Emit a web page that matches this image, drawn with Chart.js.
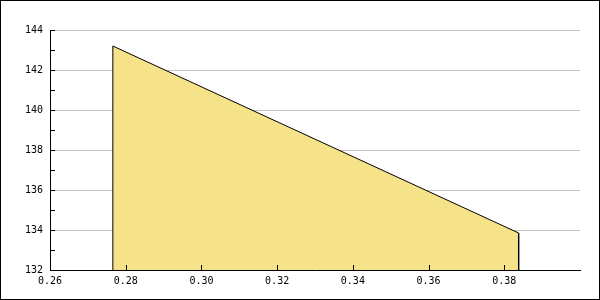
<!DOCTYPE html>
<html>
<head>
<meta charset="utf-8">
<script src="https://cdn.jsdelivr.net/npm/chart.js@4.4.1/dist/chart.umd.min.js"></script>
<style>
  html, body { margin: 0; padding: 0; background: #fff; }
  #wrap { width: 600px; height: 300px; }
</style>
</head>
<body>
<div id="wrap"><canvas id="myChart" width="600" height="300"></canvas></div>
<script>
// area outline: left edge, sloped top, right edge
const xValues = [0.2766, 0.2766, 0.3838, 0.3838];
const yValues = [132, 143.2, 133.85, 132];
const xTickValues = [0.28, 0.30, 0.32, 0.34, 0.36, 0.38];
const yMin = 132, yMax = 144;

const points = xValues.map((x, i) => ({ x: x, y: yValues[i] }));

// inward tick marks + frame round the picture
const tickPlugin = {
	id: 'inwardTicks',
	afterDatasetsDraw(chart) {
		const ctx = chart.ctx, a = chart.chartArea;
		const xs = chart.scales.x, ys = chart.scales.y;
		ctx.save();
		ctx.strokeStyle = '#000';
		ctx.lineWidth = 1;
		ctx.beginPath();
		for (let v = yMin + 1; v < yMax + 0.5; v++) {
			const py = Math.round(ys.getPixelForValue(v)) + 0.5;
			ctx.moveTo(a.left, py);
			ctx.lineTo(a.left + 5, py);
		}
		xTickValues.forEach(v => {
			const px = Math.round(xs.getPixelForValue(v)) + 0.5;
			ctx.moveTo(px, a.bottom);
			ctx.lineTo(px, a.bottom - 5);
		});
		ctx.stroke();
		ctx.strokeRect(0.5, 0.5, 599, 299);
		ctx.restore();
	}
};

const ctx = document.getElementById('myChart');

new Chart(ctx, {
	type: 'line',
	data: {
		datasets: [{
			data: points,
			borderColor: '#000',
			borderWidth: 1,
			backgroundColor: '#f6e288',
			fill: 'start',
			tension: 0,
			pointRadius: 0,
		}]
	},
	options: {
		responsive: false,
		animation: false,
		layout: {
			padding: { left: 0, top: 30, right: 20, bottom: 0 }
		},
		plugins: {
			legend: { display: false },
			tooltip: { enabled: false }
		},
		scales: {
			x: {
				type: 'linear',
				min: 0.26,
				max: 0.40,
				afterFit(scale) {
					scale.height = 30;
					scale.paddingLeft = 0;
					scale.paddingRight = 0;
				},
				grid: { display: false, drawTicks: false },
				border: { display: true, color: '#000', width: 1 },
				ticks: {
					stepSize: 0.02,
					autoSkip: false,
					maxRotation: 0,
					padding: 5,
					color: '#000',
					font: { family: 'DejaVu Sans Mono', size: 10 },
					callback: (v) => v < 0.395 ? v.toFixed(2) : ''
				}
			},
			y: {
				min: yMin,
				max: yMax,
				afterFit(scale) {
					scale.width = 50;
					scale.paddingTop = 0;
					scale.paddingBottom = 0;
				},
				grid: {
					drawTicks: false,
					color: (c) => c.tick && c.tick.value === yMin ? 'rgba(0,0,0,0)' : '#c4c4c4'
				},
				border: { display: true, color: '#000', width: 1 },
				ticks: {
					stepSize: 2,
					padding: 7,
					color: '#000',
					font: { family: 'DejaVu Sans Mono', size: 10 }
				}
			}
		}
	},
	plugins: [tickPlugin]
});
</script>
</body>
</html>
